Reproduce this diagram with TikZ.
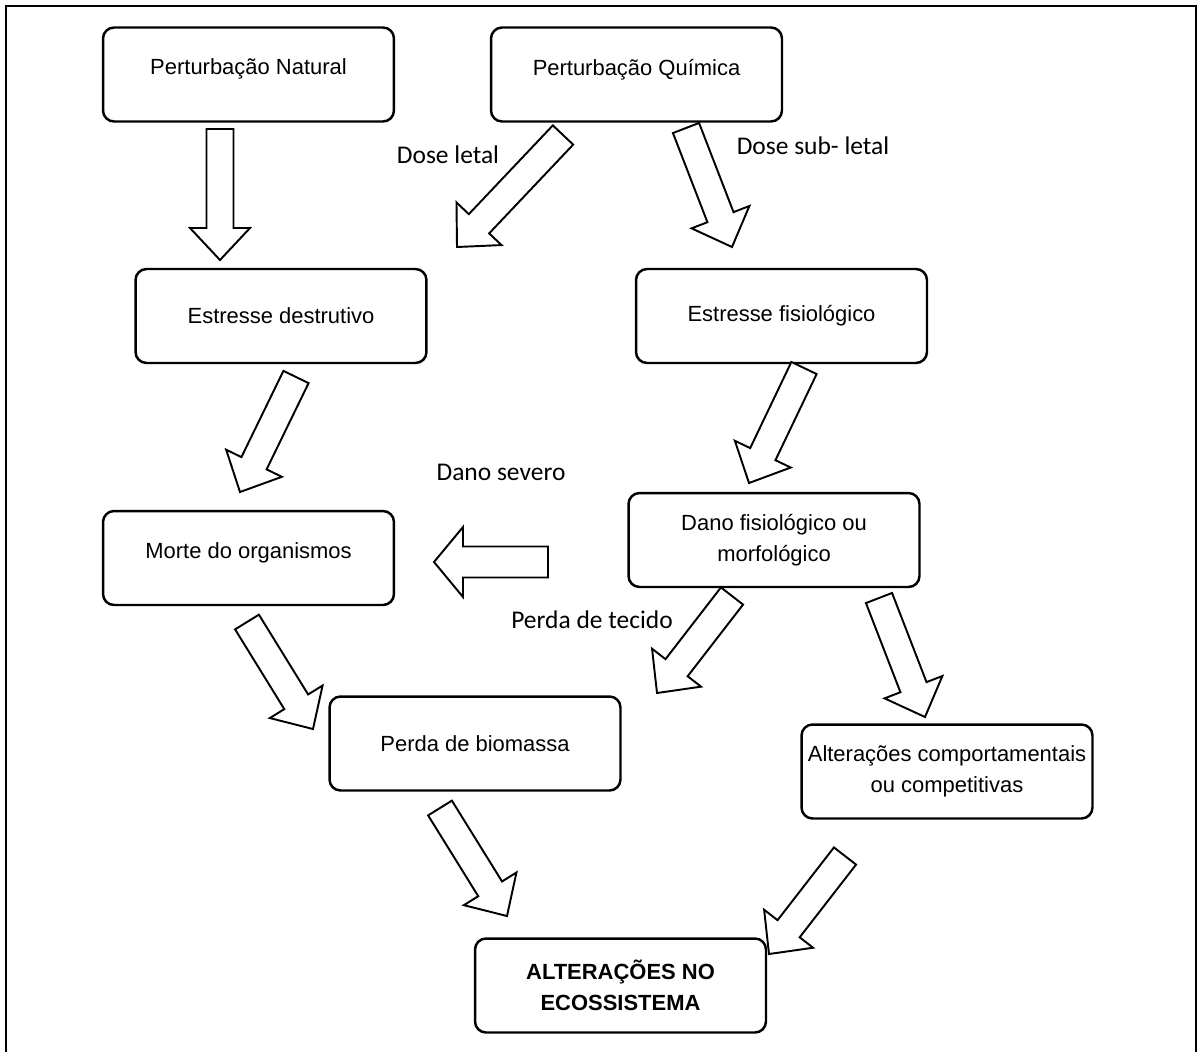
\documentclass[tikz,border=0pt]{standalone}
\usepackage{fontspec}
\setmainfont{Liberation Sans}
\newfontfamily\calibri{Carlito}
\usetikzlibrary{calc}

\newcommand{\blocoseta}[5]{%
  \coordinate (hb) at ($(#2)!#5!(#1)$);
  \draw[seta] ($(#1)!#3!90:(#2)$) -- ($(hb)!#3!90:(#2)$) -- ($(hb)!#4!90:(#2)$) -- (#2)
    -- ($(hb)!#4!-90:(#2)$) -- ($(hb)!#3!-90:(#2)$) -- ($(#1)!#3!-90:(#2)$) -- cycle;
}

\begin{document}
\begin{tikzpicture}[x=0.02cm, y=-0.02cm,
    seta/.style={draw, fill=white, line width=1.1pt, line join=miter},
    alto/.style={text depth=0.3cm}]

        \useasboundingbox (0,0) rectangle (1199,1052);
        \draw[line width=1.3pt] (6,1052) -- (6,6) -- (1196,6) -- (1196,1052);

        \begin{scope}[every node/.style={draw, rounded corners=0.22cm, line width=1.4pt,
            minimum width=5.82cm, minimum height=1.88cm, inner sep=0pt, align=center,
            font=\fontsize{12.5}{17.5}\selectfont}]
          \node[alto] (pn) at (248.5,74.5)  {Perturbação Natural};
          \node[alto] (pq) at (636.5,74.5)  {Perturbação Química};
          \node (ed) at (281,316)     {Estresse destrutivo};
          \node (ef) at (781.5,316)   {Estresse fisiológico};
          \node[alto] (mo) at (248.5,558)   {Morte do organismos};
          \node (df) at (774,540)     {Dano fisiológico ou\\morfológico};
          \node (pb) at (475,743.5)   {Perda de biomassa};
          \node (ac) at (947,771.5)   {Alterações comportamentais\\ou competitivas};
          \node (ae) at (620.5,985.5) {\bfseries ALTERAÇÕES NO\\\bfseries ECOSSISTEMA};
        \end{scope}

        \begin{scope}[every node/.style={font=\calibri\fontsize{14.5}{17}\selectfont}]
          \node (dl) at (448,155)   {Dose letal};
          \node (ds) at (813,145.5) {Dose sub- letal};
          \node (sv) at (501,472)   {Dano severo};
          \node (pt) at (592,620)   {Perda de tecido};
        \end{scope}

        \coordinate (a1)  at (220,129);  \coordinate (b1)  at (220,260);
        \coordinate (a2)  at (563,135);  \coordinate (b2)  at (457,247);
        \coordinate (a3)  at (686,128);  \coordinate (b3)  at (732,247);
        \coordinate (a4)  at (296,377);  \coordinate (b4)  at (240,492);
        \coordinate (a5)  at (804,368);  \coordinate (b5)  at (749,483);
        \coordinate (a6)  at (548,562);  \coordinate (b6)  at (434,562);
        \coordinate (a7)  at (247,622);  \coordinate (b7)  at (313,729);
        \coordinate (a8)  at (732,596);  \coordinate (b8)  at (657,693);
        \coordinate (a9)  at (879,598);  \coordinate (b9)  at (925,717);
        \coordinate (a10) at (440,808);  \coordinate (b10) at (507,916);
        \coordinate (a11) at (845,856);  \coordinate (b11) at (769,954);

        \blocoseta{a1}{b1}{0.27cm}{0.6cm}{0.64cm}
        \blocoseta{a6}{b6}{0.31cm}{0.7cm}{0.58cm}
        \foreach \i in {2,3,4,5,7,8,9,10,11}
          \blocoseta{a\i}{b\i}{0.28cm}{0.62cm}{0.64cm};

\end{tikzpicture}
\end{document}
